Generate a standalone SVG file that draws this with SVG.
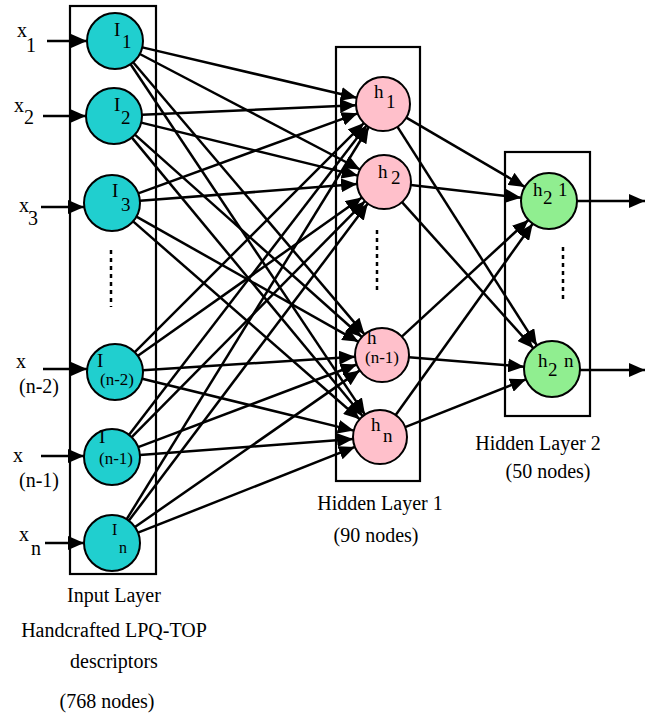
<svg xmlns="http://www.w3.org/2000/svg" width="645" height="716" viewBox="0 0 645 716">
<style>
.box{fill:none;stroke:#000;stroke-width:2.2}
.in{fill:#20CFCF;stroke:#000;stroke-width:2}
.h1{fill:#FFC0CB;stroke:#000;stroke-width:2}
.h2{fill:#90EE90;stroke:#000;stroke-width:2}
.c line{stroke:#000;stroke-width:2.5;marker-end:url(#ah)}
.dots{stroke:#000;stroke-width:2.5;stroke-dasharray:4,4;fill:none}
text{font-family:"Liberation Serif","Times New Roman",serif}
.lb{font-size:20px}
.nd{font-size:19px}
.cap{font-size:20px;text-anchor:middle}
</style>
<defs>
<marker id="ah" markerUnits="userSpaceOnUse" markerWidth="17" markerHeight="14" refX="16" refY="7" orient="auto">
<path d="M0,0 L16,7 L0,14 Z" fill="#000"/>
</marker>
</defs>
<rect width="645" height="716" fill="#fff"/>

<g id="boxes">
<rect class="box" x="70" y="6" width="86" height="568"/>
<rect class="box" x="336" y="47" width="84" height="434"/>
<rect class="box" x="505" y="152" width="85" height="264"/>
</g>

<g id="connectors" class="c">
<line x1="47" y1="41" x2="87" y2="41"/>
<line x1="43" y1="116" x2="86" y2="116"/>
<line x1="41" y1="207" x2="84" y2="207"/>
<line x1="43" y1="369" x2="87" y2="369"/>
<line x1="41" y1="456" x2="84" y2="456"/>
<line x1="45" y1="543" x2="84" y2="543"/>
<line x1="142.3" y1="47.4" x2="356.7" y2="97.8"/>
<line x1="139.8" y1="54.0" x2="360.1" y2="169.5"/>
<line x1="133.1" y1="62.3" x2="364.5" y2="334.4"/>
<line x1="130.6" y1="64.3" x2="365.0" y2="414.6"/>
<line x1="142.0" y1="114.8" x2="356.0" y2="105.2"/>
<line x1="141.2" y1="122.6" x2="357.8" y2="175.6"/>
<line x1="134.9" y1="134.6" x2="361.8" y2="337.0"/>
<line x1="131.9" y1="137.6" x2="362.8" y2="416.2"/>
<line x1="138.3" y1="193.4" x2="357.6" y2="113.3"/>
<line x1="139.9" y1="200.8" x2="357.1" y2="184.1"/>
<line x1="136.4" y1="216.7" x2="358.5" y2="341.8"/>
<line x1="133.1" y1="221.4" x2="359.7" y2="419.2"/>
<line x1="134.8" y1="352.2" x2="363.9" y2="123.1"/>
<line x1="137.9" y1="355.8" x2="361.9" y2="197.6"/>
<line x1="142.9" y1="370.2" x2="355.1" y2="356.7"/>
<line x1="142.2" y1="378.7" x2="353.8" y2="430.6"/>
<line x1="129.1" y1="434.8" x2="366.6" y2="125.4"/>
<line x1="131.7" y1="437.1" x2="365.0" y2="201.2"/>
<line x1="138.2" y1="447.1" x2="356.7" y2="364.5"/>
<line x1="139.9" y1="454.9" x2="353.1" y2="439.0"/>
<line x1="126.7" y1="519.2" x2="368.8" y2="127.0"/>
<line x1="128.9" y1="520.6" x2="367.8" y2="203.6"/>
<line x1="135.0" y1="527.0" x2="359.8" y2="370.4"/>
<line x1="138.0" y1="532.7" x2="354.9" y2="446.9"/>
<line x1="406.3" y1="117.6" x2="524.8" y2="186.9"/>
<line x1="397.5" y1="126.8" x2="536.9" y2="345.4"/>
<line x1="410.8" y1="185.1" x2="521.2" y2="197.8"/>
<line x1="402.0" y1="202.1" x2="533.3" y2="348.2"/>
<line x1="401.8" y1="336.7" x2="528.4" y2="220.0"/>
<line x1="408.9" y1="357.2" x2="524.1" y2="366.7"/>
<line x1="395.7" y1="415.0" x2="532.7" y2="223.8"/>
<line x1="405.1" y1="427.1" x2="526.0" y2="379.3"/>
<line x1="577" y1="201" x2="645" y2="201"/>
<line x1="580" y1="370" x2="645" y2="370"/>
</g>

<g id="dots">
<line class="dots" x1="111" y1="250" x2="111" y2="307"/>
<line class="dots" x1="377" y1="230" x2="377" y2="290"/>
<line class="dots" x1="563" y1="247" x2="563" y2="303"/>
</g>

<g fill="#000">
<g id="input-labels" class="lb">
<text x="17" y="37">x</text><text x="26" y="52">1</text>
<text x="14" y="112">x</text><text x="24" y="124">2</text>
<text x="19" y="212">x</text><text x="28" y="225">3</text>
<text x="16" y="368">x</text><text x="19" y="393">(n-2)</text>
<text x="13" y="462">x</text><text x="19" y="487">(n-1)</text>
<text x="19" y="541">x</text><text x="31" y="555">n</text>
</g>

<g id="I1"><circle class="in" cx="115" cy="41" r="28"/><text class="nd" x="114" y="36">I</text><text class="nd" x="122" y="48">1</text></g>
<g id="I2"><circle class="in" cx="114" cy="116" r="28"/><text class="nd" x="114" y="111">I</text><text class="nd" x="121" y="124">2</text></g>
<g id="I3"><circle class="in" cx="112" cy="203" r="28"/><text class="nd" x="112" y="197">I</text><text class="nd" x="121" y="211">3</text></g>
<g id="In2"><circle class="in" cx="115" cy="372" r="28"/><text class="nd" x="97" y="367">I</text><text x="100" y="385" font-size="17">(n-2)</text></g>
<g id="In1"><circle class="in" cx="112" cy="457" r="28"/><text class="nd" x="99" y="443">I</text><text x="99" y="464" font-size="17">(n-1)</text></g>
<g id="In"><circle class="in" cx="112" cy="543" r="28"/><text x="112" y="535" font-size="16">I</text><text x="119" y="553" font-size="16">n</text></g>

<g id="h1"><circle class="h1" cx="383" cy="104" r="27"/><text class="nd" x="374" y="98">h</text><text class="nd" x="386" y="108">1</text></g>
<g id="h2"><circle class="h1" cx="384" cy="182" r="27"/><text class="nd" x="378" y="178">h</text><text class="nd" x="391" y="184">2</text></g>
<g id="hm1"><circle class="h1" cx="382" cy="355" r="27"/><text class="nd" x="367" y="344">h</text><text x="365" y="363" font-size="17">(n-1)</text></g>
<g id="hn"><circle class="h1" cx="380" cy="437" r="27"/><text class="nd" x="371" y="431">h</text><text class="nd" x="383" y="442">n</text></g>

<g id="g1"><circle class="h2" cx="549" cy="201" r="28"/><text class="nd" x="533" y="196">h</text><text class="nd" x="543" y="204">2</text><text class="nd" x="558" y="196">1</text></g>
<g id="g2"><circle class="h2" cx="552" cy="369" r="28"/><text class="nd" x="538" y="367">h</text><text class="nd" x="548" y="376">2</text><text class="nd" x="564" y="367">n</text></g>

<g id="captions" class="cap">
<text x="114" y="602">Input Layer</text>
<text x="114" y="637">Handcrafted LPQ-TOP</text>
<text x="114" y="668">descriptors</text>
<text x="107" y="708">(768 nodes)</text>
<text x="380" y="510">Hidden Layer 1</text>
<text x="376" y="542">(90 nodes)</text>
<text x="538" y="450">Hidden Layer 2</text>
<text x="548" y="478">(50 nodes)</text>
</g>
</g>
</svg>
